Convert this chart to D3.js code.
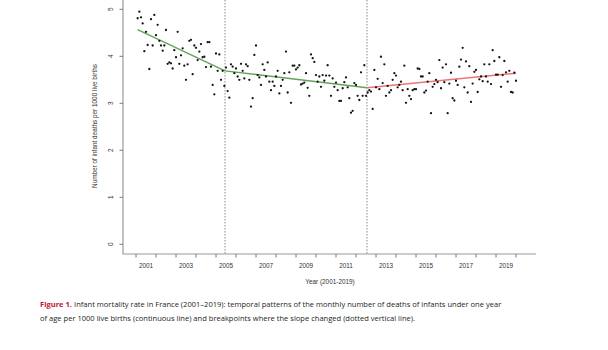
<!DOCTYPE html>
<html>
<head>
<meta charset="utf-8">
<script src="https://cdn.jsdelivr.net/npm/d3@7"></script>
<style>
  body { margin: 0; background: #fff; }
  svg { display: block; }
</style>
</head>
<body>
<div id="chart"></div>
<script>
// Monthly infant deaths per 1000 live births, Jan 2001 .. Dec 2019
const monthlyRate = [
  4.81, 4.95, 4.83, 4.70, 4.11, 4.52, 4.24, 3.73, 4.79, 4.23, 4.88, 4.45,
  4.67, 4.33, 4.23, 4.12, 4.23, 4.56, 3.84, 3.87, 3.85, 3.74, 4.13, 3.98,
  4.52, 3.84, 4.02, 4.17, 3.80, 3.50, 3.83, 4.33, 4.35, 3.62, 4.23, 4.18,
  3.92, 4.10, 4.26, 3.98, 3.99, 3.77, 4.30, 4.30, 3.78, 3.39, 3.19, 4.06,
  3.69, 4.04, 3.50, 3.69, 3.37, 3.76, 3.26, 3.12, 3.83, 3.78, 3.64, 3.74,
  3.57, 3.50, 3.84, 3.69, 3.53, 3.83, 3.79, 3.50, 2.93, 3.11, 4.03, 4.23,
  3.60, 3.55, 3.39, 3.83, 3.71, 3.57, 3.87, 3.46, 3.28, 3.46, 3.37, 3.57,
  3.69, 3.21, 3.37, 3.50, 3.64, 4.10, 3.23, 3.66, 3.01, 3.80, 3.80, 3.72,
  3.76, 3.81, 3.40, 3.42, 3.44, 3.64, 3.33, 3.16, 4.04, 3.96, 3.88, 3.60,
  3.46, 3.57, 3.35, 3.60, 3.48, 3.59, 3.81, 3.59, 3.16, 3.53, 3.35, 3.44,
  3.28, 3.05, 3.05, 3.32, 3.45, 3.55, 3.34, 3.11, 2.80, 2.84, 3.43, 3.39,
  3.16, 3.07, 3.66, 3.16, 3.81, 3.16, 3.23, 3.28, 3.25, 2.88, 3.71, 3.34,
  3.52, 3.30, 3.99, 3.43, 3.83, 3.16, 3.37, 3.23, 3.28, 3.50, 3.64, 3.59,
  3.34, 3.39, 3.46, 3.28, 3.80, 3.01, 3.30, 3.16, 3.09, 3.28, 3.30, 3.30,
  3.74, 3.73, 3.57, 3.57, 3.23, 3.27, 3.46, 3.64, 2.79, 3.35, 3.41, 3.50,
  3.45, 3.92, 3.32, 3.76, 3.45, 3.83, 2.79, 3.42, 3.65, 3.11, 3.06, 3.48,
  3.39, 3.78, 3.93, 4.18, 3.34, 3.89, 3.23, 3.79, 3.03, 3.42, 3.67, 3.71,
  3.24, 3.51, 3.57, 3.47, 3.83, 3.57, 3.46, 3.83, 3.41, 4.13, 3.90, 3.61,
  3.61, 3.98, 3.35, 3.60, 3.90, 3.66, 3.46, 3.69, 3.24, 3.23, 3.65, 3.48
];
const startYear = 2001;

// Segmented regression fit: knots (year) and fitted values
const trendYears = [2001.08, 2005.45, 2012.55, 2020.0];
const trendValues = [4.57, 3.69, 3.33, 3.64];
const breakpoints = [2005.45, 2012.55];

// Axis ticks
const yearTicks = d3.range(2001, 2021);
const yearLabels = [2001, 2003, 2005, 2007, 2009, 2011, 2013, 2015, 2017, 2019];
const rateTicks = [0, 1, 2, 3, 4, 5];

// Caption text
const captionLabel = "Figure 1.";
const captionLine1 = "Infant mortality rate in France (2001\u20132019): temporal patterns of the monthly number of deaths of infants under one year";
const captionLine2 = "of age per 1000 live births (continuous line) and breakpoints where the slope changed (dotted vertical line).";

const width = 608;
const height = 350;

const svg = d3.select("#chart").append("svg")
  .attr("width", width)
  .attr("height", height)
  .style("font-family", "'Liberation Sans', Arial, sans-serif");

// Plot region (R style, L-shaped box)
const plotLeft = 123, plotRight = 536, plotTop = 0, plotBottom = 254;

const x = d3.scaleLinear().domain([2001, 2020]).range([136, 516]);
const y = d3.scaleLinear().domain([0, 5]).range([244.3, 9.3]);

const points = monthlyRate.map((v, i) => ({t: startYear + (i + 1) / 12, v: v}));

// Breakpoint lines
svg.append("g").selectAll("line")
  .data(breakpoints)
  .join("line")
    .attr("x1", d => x(d)).attr("x2", d => x(d))
    .attr("y1", plotTop).attr("y2", plotBottom)
    .attr("stroke", "#8a8a8a")
    .attr("stroke-width", 1)
    .attr("stroke-dasharray", "1.5,1.5");

// Axes lines
svg.append("path")
  .attr("d", `M${plotLeft},${plotTop} V${plotBottom} H${plotRight}`)
  .attr("fill", "none")
  .attr("stroke", "#9a9a9a")
  .attr("stroke-width", 1.2);

// X ticks
svg.append("g").selectAll("line")
  .data(yearTicks)
  .join("line")
    .attr("x1", d => x(d)).attr("x2", d => x(d))
    .attr("y1", plotBottom).attr("y2", plotBottom + 3.5)
    .attr("stroke", "#7a7a7a");

svg.append("g").selectAll("text")
  .data(yearLabels)
  .join("text")
    .attr("x", d => x(d + 0.5))
    .attr("y", 267.5)
    .attr("text-anchor", "middle")
    .attr("font-size", 6.4)
    .attr("fill", "#333")
    .text(d => d);

svg.append("text")
  .attr("x", 330)
  .attr("y", 283.5)
  .attr("text-anchor", "middle")
  .attr("font-size", 6.4)
  .attr("fill", "#333")
  .text("Year (2001-2019)");

// Y ticks
svg.append("g").selectAll("line")
  .data(rateTicks)
  .join("line")
    .attr("x1", plotLeft - 3.5).attr("x2", plotLeft)
    .attr("y1", d => y(d)).attr("y2", d => y(d))
    .attr("stroke", "#7a7a7a");

svg.append("g").selectAll("text")
  .data(rateTicks)
  .join("text")
    .attr("transform", d => `translate(112.5,${y(d)}) rotate(-90)`)
    .attr("text-anchor", "middle")
    .attr("font-size", 6.4)
    .attr("fill", "#333")
    .text(d => d);

svg.append("text")
  .attr("transform", "translate(97,126) rotate(-90)")
  .attr("text-anchor", "middle")
  .attr("font-size", 6.4)
  .attr("fill", "#333")
  .text("Number of infant deaths per 1000 live births");

// Trend segments
const segColors = ["#62a358", "#62a358", "#f07474"];
svg.append("g").selectAll("line")
  .data(d3.range(trendYears.length - 1))
  .join("line")
    .attr("x1", i => x(trendYears[i])).attr("y1", i => y(trendValues[i]))
    .attr("x2", i => x(trendYears[i + 1])).attr("y2", i => y(trendValues[i + 1]))
    .attr("stroke", i => segColors[i])
    .attr("stroke-width", 1.4);

// Monthly points
svg.append("g").selectAll("circle")
  .data(points)
  .join("circle")
    .attr("cx", d => x(d.t))
    .attr("cy", d => y(d.v))
    .attr("r", 1.15)
    .attr("fill", "#151515");

// Caption: font size fitted so line 1 spans x 40..502 like the figure
const cap = svg.append("g")
  .style("font-family", "'Open Sans', Lato, sans-serif")
  .attr("fill", "#231f20");

const capLeft = 40, capLine1Width = 462;
let fs = 10;

const label = cap.append("text")
  .attr("x", capLeft).attr("y", 306.5)
  .attr("font-size", fs)
  .attr("fill", "#c4122f")
  .attr("font-weight", "bold")
  .text(captionLabel);
const rest1 = cap.append("text")
  .attr("y", 306.5)
  .attr("font-size", fs)
  .text(captionLine1);
const rest2 = cap.append("text")
  .attr("x", capLeft).attr("y", 320.5)
  .attr("font-size", fs)
  .text(captionLine2);

const gap = 0.28;
const w0 = label.node().getComputedTextLength() + rest1.node().getComputedTextLength() + gap * fs;
fs = Math.min(10.5, fs * capLine1Width / w0);
label.attr("font-size", fs);
rest1.attr("font-size", fs);
rest2.attr("font-size", fs);
rest1.attr("x", capLeft + label.node().getComputedTextLength() + gap * fs);
</script>
</body>
</html>
